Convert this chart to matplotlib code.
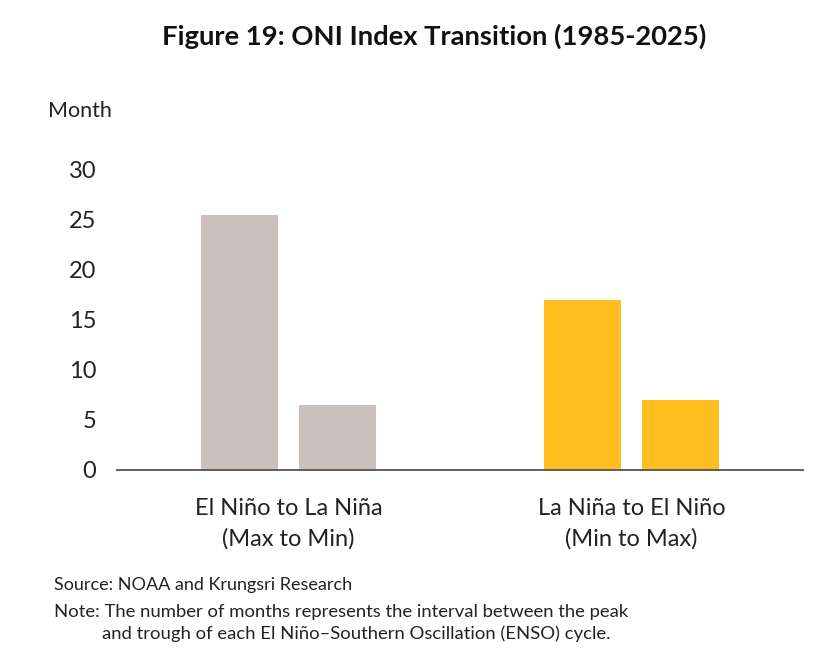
import matplotlib
matplotlib.use("Agg")
import matplotlib.pyplot as plt
import numpy as np

plt.rcParams['font.family'] = ['Lato', 'DejaVu Sans']

categories = ["El Niño to La Niña\n(Max to Min)", "La Niña to El Niño\n(Min to Max)"]
series_a = [25.5, 17.0]
series_b = [6.5, 7.0]
colors = ["#CBC0BD", "#FEBE1F"]
yticks = [0, 5, 10, 15, 20, 25, 30]

fig = plt.figure(figsize=(8.4, 6.67), dpi=100)
ax = fig.add_axes([117/840, 1 - 470/667, (803-117)/840, 300/667])

x = np.arange(len(categories))
w = 0.227
off = 0.143
for i in range(len(categories)):
    ax.bar(x[i] - off, series_a[i], width=w, color=colors[i])
    ax.bar(x[i] + off, series_b[i], width=w, color=colors[i])

ax.set_xlim(-0.5, 1.5)
ax.set_ylim(0, 30)
ax.set_yticks(yticks)
ax.set_yticklabels([str(t) for t in yticks], fontsize=17, color="#222222")
ax.set_xticks(x)
ax.set_xticklabels(categories, fontsize=17, color="#222222", linespacing=1.55)
ax.tick_params(axis='both', length=0)
ax.tick_params(axis='y', pad=15)
ax.tick_params(axis='x', pad=20)
for s in ['top', 'right', 'left']:
    ax.spines[s].set_visible(False)
ax.spines['bottom'].set_color("#5a5050")
ax.spines['bottom'].set_linewidth(1.3)

fig.text(434/840, 1 - 36/667, "Figure 19: ONI Index Transition (1985-2025)", ha='center', va='center',
         fontsize=19.7, fontweight='bold', color="#111111")
fig.text(48/840, 1 - 111/667, "Month", ha='left', va='center', fontsize=15.5, color="#222222")
fig.text(54/840, 1 - 585/667, "Source: NOAA and Krungsri Research", ha='left', va='center', fontsize=13, color="#222222")
fig.text(54/840, 1 - 612/667, "Note: The number of months represents the interval between the peak", ha='left', va='center', fontsize=13.3, color="#222222")
fig.text(102/840, 1 - 634/667, "and trough of each El Niño–Southern Oscillation (ENSO) cycle.", ha='left', va='center', fontsize=13.3, color="#222222")

fig.savefig("out.png", dpi=100)
